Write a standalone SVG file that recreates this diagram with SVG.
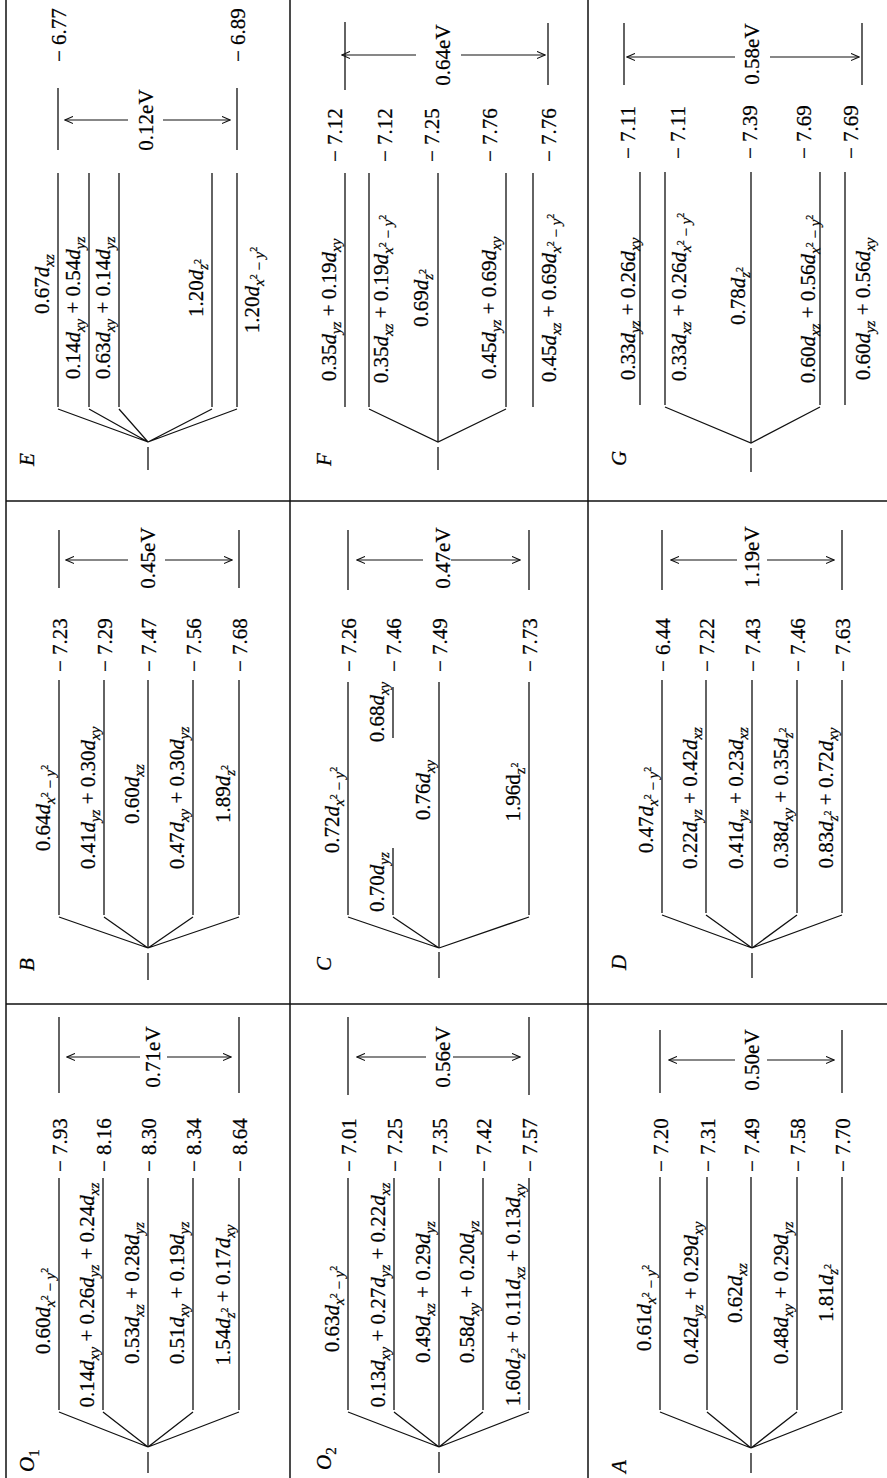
<svg xmlns="http://www.w3.org/2000/svg" width="887" height="1478" viewBox="0 0 887 1478">
<style>
.t{font-family:"Liberation Serif","Times New Roman",serif;font-size:21px;fill:#000;stroke:#000;stroke-width:0.25}
.i{font-style:italic}
.s{font-size:15px}
.p{font-size:10px}
.ln{stroke:#111;stroke-width:1.3;fill:none}
.gr{stroke:#111;stroke-width:1.5;fill:none}
.ar{stroke:#111;stroke-width:1.2;fill:none;marker-end:url(#ah)}
</style>
<defs>
<marker id="ah" viewBox="0 0 10 10" refX="9" refY="5" markerWidth="9" markerHeight="9" orient="auto" markerUnits="userSpaceOnUse"><path d="M0,1 L9,5 L0,9" fill="none" stroke="#111" stroke-width="1.2"/></marker>
</defs>
<rect width="887" height="1478" fill="#fff"/>
<g transform="translate(0,1478) rotate(-90)">
<g id="grid" class="gr">
<path d="M0,6 H1478 M0,290 H1478 M0,588 H1478 M474,6 V887 M977,6 V887"/>
</g>

<!-- O1 -->
<g id="panel-O1">
<path class="ln" d="M68,59 H300 M68,103 H300 M31,148 H300 M68,193 H300 M68,239 H300 M5,148 H26 M385,59 H461 M385,239 H461"/>
<g class="connectors"><path class="ln" d="M66,59 L31,148 L66,103 M66,193 L31,148 L66,239"/>
<path class="ar" d="M421,140 V67"/><path class="ar" d="M421,167 V231"/></g>
<text class="t" x="6" y="34"><tspan class="i">O</tspan><tspan class="s" dy="5">1</tspan></text>
<text class="t" x="421" y="160" text-anchor="middle">0.71eV</text>
<text class="t" x="306" y="67">− 7.93</text>
<text class="t" x="306" y="111">− 8.16</text>
<text class="t" x="306" y="156">− 8.30</text>
<text class="t" x="306" y="201">− 8.34</text>
<text class="t" x="306" y="247">− 8.64</text>
<text class="t" x="167" y="50" text-anchor="middle">0.60<tspan class="i">d</tspan><tspan class="s" dy="5"><tspan class="i">x</tspan><tspan class="p" dy="-7">2</tspan><tspan dy="7"> − </tspan><tspan class="i">y</tspan><tspan class="p" dy="-7">2</tspan></tspan></text>
<text class="t" x="183" y="94" text-anchor="middle">0.14<tspan class="i">d</tspan><tspan class="i s" dy="5">xy</tspan><tspan dy="-5"> + 0.26</tspan><tspan class="i">d</tspan><tspan class="i s" dy="5">yz</tspan><tspan dy="-5"> + 0.24</tspan><tspan class="i">d</tspan><tspan class="i s" dy="5">xz</tspan></text>
<text class="t" x="185" y="139" text-anchor="middle">0.53<tspan class="i">d</tspan><tspan class="i s" dy="5">xz</tspan><tspan dy="-5"> + 0.28</tspan><tspan class="i">d</tspan><tspan class="i s" dy="5">yz</tspan></text>
<text class="t" x="185" y="184" text-anchor="middle">0.51<tspan class="i">d</tspan><tspan class="i s" dy="5">xy</tspan><tspan dy="-5"> + 0.19</tspan><tspan class="i">d</tspan><tspan class="i s" dy="5">yz</tspan></text>
<text class="t" x="183" y="230" text-anchor="middle">1.54<tspan class="i">d</tspan><tspan class="i s" dy="5">z</tspan><tspan class="p" dy="-7">2</tspan><tspan dy="2"> + 0.17</tspan><tspan class="i">d</tspan><tspan class="i s" dy="5">xy</tspan></text>
</g>

<!-- O2 -->
<g id="panel-O2">
<path class="ln" d="M68,348 H300 M68,394 H300 M31,439 H300 M68,483 H300 M68,529 H300 M5,439 H26 M383,348 H461 M383,529 H461"/>
<g class="connectors"><path class="ln" d="M66,348 L31,439 L66,394 M66,483 L31,439 L66,529"/>
<path class="ar" d="M421,426 V357"/><path class="ar" d="M421,453 V520"/></g>
<text class="t" x="8" y="331"><tspan class="i">O</tspan><tspan class="s" dy="5">2</tspan></text>
<text class="t" x="421" y="450" text-anchor="middle">0.56eV</text>
<text class="t" x="306" y="356">− 7.01</text>
<text class="t" x="306" y="402">− 7.25</text>
<text class="t" x="306" y="447">− 7.35</text>
<text class="t" x="306" y="491">− 7.42</text>
<text class="t" x="306" y="537">− 7.57</text>
<text class="t" x="169" y="339" text-anchor="middle">0.63<tspan class="i">d</tspan><tspan class="s" dy="5"><tspan class="i">x</tspan><tspan class="p" dy="-7">2</tspan><tspan dy="7"> − </tspan><tspan class="i">y</tspan><tspan class="p" dy="-7">2</tspan></tspan></text>
<text class="t" x="183" y="385" text-anchor="middle">0.13<tspan class="i">d</tspan><tspan class="i s" dy="5">xy</tspan><tspan dy="-5"> + 0.27</tspan><tspan class="i">d</tspan><tspan class="i s" dy="5">yz</tspan><tspan dy="-5"> + 0.22</tspan><tspan class="i">d</tspan><tspan class="i s" dy="5">xz</tspan></text>
<text class="t" x="186" y="430" text-anchor="middle">0.49<tspan class="i">d</tspan><tspan class="i s" dy="5">xz</tspan><tspan dy="-5"> + 0.29</tspan><tspan class="i">d</tspan><tspan class="i s" dy="5">yz</tspan></text>
<text class="t" x="186" y="474" text-anchor="middle">0.58<tspan class="i">d</tspan><tspan class="i s" dy="5">xy</tspan><tspan dy="-5"> + 0.20</tspan><tspan class="i">d</tspan><tspan class="i s" dy="5">yz</tspan></text>
<text class="t" x="183" y="520" text-anchor="middle">1.60<tspan class="i">d</tspan><tspan class="i s" dy="5">z</tspan><tspan class="p" dy="-7">2</tspan><tspan dy="2"> + 0.11</tspan><tspan class="i">d</tspan><tspan class="i s" dy="5">xz</tspan><tspan dy="-5"> + 0.13</tspan><tspan class="i">d</tspan><tspan class="i s" dy="5">xy</tspan></text>
</g>

<!-- A -->
<g id="panel-A">
<path class="ln" d="M68,660 H301 M68,707 H301 M30,751 H301 M68,797 H301 M68,842 H301 M5,751 H25 M385,660 H448 M385,842 H448"/>
<g class="connectors"><path class="ln" d="M66,660 L30,751 L66,707 M66,797 L30,751 L66,842"/>
<path class="ar" d="M418,735 V669"/><path class="ar" d="M418,767 V834"/></g>
<text class="t i" x="5" y="626">A</text>
<text class="t" x="418" y="759" text-anchor="middle">0.50eV</text>
<text class="t" x="306" y="668">− 7.20</text>
<text class="t" x="306" y="715">− 7.31</text>
<text class="t" x="306" y="759">− 7.49</text>
<text class="t" x="306" y="805">− 7.58</text>
<text class="t" x="306" y="850">− 7.70</text>
<text class="t" x="170" y="651" text-anchor="middle">0.61<tspan class="i">d</tspan><tspan class="s" dy="5"><tspan class="i">x</tspan><tspan class="p" dy="-7">2</tspan><tspan dy="7"> − </tspan><tspan class="i">y</tspan><tspan class="p" dy="-7">2</tspan></tspan></text>
<text class="t" x="185" y="698" text-anchor="middle">0.42<tspan class="i">d</tspan><tspan class="i s" dy="5">yz</tspan><tspan dy="-5"> + 0.29</tspan><tspan class="i">d</tspan><tspan class="i s" dy="5">xy</tspan></text>
<text class="t" x="185" y="742" text-anchor="middle">0.62<tspan class="i">d</tspan><tspan class="i s" dy="5">xz</tspan></text>
<text class="t" x="185" y="788" text-anchor="middle">0.48<tspan class="i">d</tspan><tspan class="i s" dy="5">xy</tspan><tspan dy="-5"> + 0.29</tspan><tspan class="i">d</tspan><tspan class="i s" dy="5">yz</tspan></text>
<text class="t" x="185" y="833" text-anchor="middle">1.81<tspan class="i">d</tspan><tspan class="i s" dy="5">z</tspan><tspan class="p" dy="-7">2</tspan></text>
</g>

<!-- B -->
<g id="panel-B">
<path class="ln" d="M563,59 H798 M563,104 H798 M530,148 H798 M563,193 H798 M563,239 H798 M498,148 H525 M890,59 H948 M890,239 H948"/>
<g class="connectors"><path class="ln" d="M561,59 L530,148 L561,104 M561,193 L530,148 L561,239"/>
<path class="ar" d="M918,128 V66"/><path class="ar" d="M918,165 V232"/></g>
<text class="t i" x="507" y="34">B</text>
<text class="t" x="920" y="155" text-anchor="middle">0.45eV</text>
<text class="t" x="806" y="67">− 7.23</text>
<text class="t" x="806" y="112">− 7.29</text>
<text class="t" x="806" y="156">− 7.47</text>
<text class="t" x="806" y="201">− 7.56</text>
<text class="t" x="806" y="247">− 7.68</text>
<text class="t" x="670" y="50" text-anchor="middle">0.64<tspan class="i">d</tspan><tspan class="s" dy="5"><tspan class="i">x</tspan><tspan class="p" dy="-7">2</tspan><tspan dy="7"> − </tspan><tspan class="i">y</tspan><tspan class="p" dy="-7">2</tspan></tspan></text>
<text class="t" x="680" y="95" text-anchor="middle">0.41<tspan class="i">d</tspan><tspan class="i s" dy="5">yz</tspan><tspan dy="-5"> + 0.30</tspan><tspan class="i">d</tspan><tspan class="i s" dy="5">xy</tspan></text>
<text class="t" x="684" y="139" text-anchor="middle">0.60<tspan class="i">d</tspan><tspan class="i s" dy="5">xz</tspan></text>
<text class="t" x="680" y="184" text-anchor="middle">0.47<tspan class="i">d</tspan><tspan class="i s" dy="5">xy</tspan><tspan dy="-5"> + 0.30</tspan><tspan class="i">d</tspan><tspan class="i s" dy="5">yz</tspan></text>
<text class="t" x="684" y="230" text-anchor="middle">1.89<tspan class="i">d</tspan><tspan class="i s" dy="5">z</tspan><tspan class="p" dy="-7">2</tspan></text>
</g>

<!-- C -->
<g id="panel-C">
<path class="ln" d="M563,348 H796 M563,393 H630 M740,393 H791 M530,439 H796 M563,529 H796 M500,439 H526 M888,348 H948 M888,529 H948"/>
<g class="connectors"><path class="ln" d="M561,348 L530,439 L561,393 M530,439 L561,529"/>
<path class="ar" d="M918,423 V357"/><path class="ar" d="M918,451 V520"/></g>
<text class="t i" x="507" y="331">C</text>
<text class="t" x="920" y="450" text-anchor="middle">0.47eV</text>
<text class="t" x="806" y="356">− 7.26</text>
<text class="t" x="806" y="401">− 7.46</text>
<text class="t" x="806" y="447">− 7.49</text>
<text class="t" x="806" y="537">− 7.73</text>
<text class="t" x="668" y="339" text-anchor="middle">0.72<tspan class="i">d</tspan><tspan class="s" dy="5"><tspan class="i">x</tspan><tspan class="p" dy="-7">2</tspan><tspan dy="7"> − </tspan><tspan class="i">y</tspan><tspan class="p" dy="-7">2</tspan></tspan></text>
<text class="t" x="596" y="384" text-anchor="middle">0.70<tspan class="i">d</tspan><tspan class="i s" dy="5">yz</tspan></text>
<text class="t" x="766" y="384" text-anchor="middle">0.68<tspan class="i">d</tspan><tspan class="i s" dy="5">xy</tspan></text>
<text class="t" x="688" y="430" text-anchor="middle">0.76<tspan class="i">d</tspan><tspan class="i s" dy="5">xy</tspan></text>
<text class="t" x="686" y="520" text-anchor="middle">1.96d<tspan class="s" dy="5">z</tspan><tspan class="p" dy="-7">2</tspan></text>
</g>

<!-- D -->
<g id="panel-D">
<path class="ln" d="M565,662 H798 M565,706 H798 M530,752 H798 M565,797 H798 M565,842 H798 M500,752 H525 M888,662 H948 M888,842 H948"/>
<g class="connectors"><path class="ln" d="M563,662 L530,752 L563,706 M563,797 L530,752 L563,842"/>
<path class="ar" d="M918,737 V671"/><path class="ar" d="M918,767 V834"/></g>
<text class="t i" x="508" y="626">D</text>
<text class="t" x="921" y="759" text-anchor="middle">1.19eV</text>
<text class="t" x="806" y="670">− 6.44</text>
<text class="t" x="806" y="714">− 7.22</text>
<text class="t" x="806" y="760">− 7.43</text>
<text class="t" x="806" y="805">− 7.46</text>
<text class="t" x="806" y="850">− 7.63</text>
<text class="t" x="668" y="653" text-anchor="middle">0.47<tspan class="i">d</tspan><tspan class="s" dy="5"><tspan class="i">x</tspan><tspan class="p" dy="-7">2</tspan><tspan dy="7"> − </tspan><tspan class="i">y</tspan><tspan class="p" dy="-7">2</tspan></tspan></text>
<text class="t" x="680" y="697" text-anchor="middle">0.22<tspan class="i">d</tspan><tspan class="i s" dy="5">yz</tspan><tspan dy="-5"> + 0.42</tspan><tspan class="i">d</tspan><tspan class="i s" dy="5">xz</tspan></text>
<text class="t" x="680" y="743" text-anchor="middle">0.41<tspan class="i">d</tspan><tspan class="i s" dy="5">yz</tspan><tspan dy="-5"> + 0.23</tspan><tspan class="i">d</tspan><tspan class="i s" dy="5">xz</tspan></text>
<text class="t" x="680" y="788" text-anchor="middle">0.38<tspan class="i">d</tspan><tspan class="i s" dy="5">xy</tspan><tspan dy="-5"> + 0.35</tspan><tspan class="i">d</tspan><tspan class="i s" dy="5">z</tspan><tspan class="p" dy="-7">2</tspan></text>
<text class="t" x="680" y="833" text-anchor="middle">0.83<tspan class="i">d</tspan><tspan class="i s" dy="5">z</tspan><tspan class="p" dy="-7">2</tspan><tspan dy="2"> + 0.72</tspan><tspan class="i">d</tspan><tspan class="i s" dy="5">xy</tspan></text>
</g>

<!-- E -->
<g id="panel-E">
<path class="ln" d="M1071,58 H1305 M1071,89 H1305 M1071,119 H1305 M1071,212 H1305 M1071,237 H1305 M1008,148 H1031 M1328,58 H1390 M1328,237 H1390"/>
<g class="connectors"><path class="ln" d="M1069,58 L1036,148 L1069,89 M1069,119 L1036,148 L1069,212 M1036,148 L1069,237"/>
<path class="ar" d="M1358,128 V65"/><path class="ar" d="M1358,163 V230"/></g>
<text class="t i" x="1012" y="34">E</text>
<text class="t" x="1358" y="153" text-anchor="middle">0.12eV</text>
<text class="t" x="1416" y="66">− 6.77</text>
<text class="t" x="1416" y="245">− 6.89</text>
<text class="t" x="1194" y="49" text-anchor="middle">0.67<tspan class="i">d</tspan><tspan class="i s" dy="5">xz</tspan></text>
<text class="t" x="1170" y="80" text-anchor="middle">0.14<tspan class="i">d</tspan><tspan class="i s" dy="5">xy</tspan><tspan dy="-5"> + 0.54</tspan><tspan class="i">d</tspan><tspan class="i s" dy="5">yz</tspan></text>
<text class="t" x="1170" y="110" text-anchor="middle">0.63<tspan class="i">d</tspan><tspan class="i s" dy="5">xy</tspan><tspan dy="-5"> + 0.14</tspan><tspan class="i">d</tspan><tspan class="i s" dy="5">yz</tspan></text>
<text class="t" x="1190" y="203" text-anchor="middle">1.20<tspan class="i">d</tspan><tspan class="i s" dy="5">z</tspan><tspan class="p" dy="-7">2</tspan></text>
<text class="t" x="1188" y="259" text-anchor="middle">1.20<tspan class="i">d</tspan><tspan class="s" dy="5"><tspan class="i">x</tspan><tspan class="p" dy="-7">2</tspan><tspan dy="7"> − </tspan><tspan class="i">y</tspan><tspan class="p" dy="-7">2</tspan></tspan></text>
</g>

<!-- F -->
<g id="panel-F">
<path class="ln" d="M1071,345 H1305 M1071,369 H1305 M1036,438 H1305 M1071,506 H1305 M1071,533 H1305 M1008,438 H1031 M1388,345 H1456 M1393,548 H1455"/>
<g class="connectors"><path class="ln" d="M1069,369 L1036,438 L1069,506"/>
<path class="ar" d="M1423,416 V342"/><path class="ar" d="M1423,461 V545"/></g>
<text class="t i" x="1012" y="331">F</text>
<text class="t" x="1423" y="450" text-anchor="middle">0.64eV</text>
<text class="t" x="1316" y="342">− 7.12</text>
<text class="t" x="1316" y="392">− 7.12</text>
<text class="t" x="1316" y="439">− 7.25</text>
<text class="t" x="1316" y="497">− 7.76</text>
<text class="t" x="1316" y="556">− 7.76</text>
<text class="t" x="1168" y="336" text-anchor="middle">0.35<tspan class="i">d</tspan><tspan class="i s" dy="5">yz</tspan><tspan dy="-5"> + 0.19</tspan><tspan class="i">d</tspan><tspan class="i s" dy="5">xy</tspan></text>
<text class="t" x="1179" y="388" text-anchor="middle">0.35<tspan class="i">d</tspan><tspan class="i s" dy="5">xz</tspan><tspan dy="-5"> + 0.19</tspan><tspan class="i">d</tspan><tspan class="s" dy="5"><tspan class="i">x</tspan><tspan class="p" dy="-7">2</tspan><tspan dy="7"> − </tspan><tspan class="i">y</tspan><tspan class="p" dy="-7">2</tspan></tspan></text>
<text class="t" x="1180" y="428" text-anchor="middle">0.69<tspan class="i">d</tspan><tspan class="i s" dy="5">z</tspan><tspan class="p" dy="-7">2</tspan></text>
<text class="t" x="1170" y="496" text-anchor="middle">0.45<tspan class="i">d</tspan><tspan class="i s" dy="5">yz</tspan><tspan dy="-5"> + 0.69</tspan><tspan class="i">d</tspan><tspan class="i s" dy="5">xy</tspan></text>
<text class="t" x="1180" y="556" text-anchor="middle">0.45<tspan class="i">d</tspan><tspan class="i s" dy="5">xz</tspan><tspan dy="-5"> + 0.69</tspan><tspan class="i">d</tspan><tspan class="s" dy="5"><tspan class="i">x</tspan><tspan class="p" dy="-7">2</tspan><tspan dy="7"> − </tspan><tspan class="i">y</tspan><tspan class="p" dy="-7">2</tspan></tspan></text>
</g>

<!-- G -->
<g id="panel-G">
<path class="ln" d="M1073,640 H1306 M1073,665 H1306 M1035,751 H1306 M1073,820 H1306 M1073,845 H1306 M1006,751 H1030 M1393,624 H1455 M1393,862 H1455"/>
<g class="connectors"><path class="ln" d="M1071,665 L1035,751 L1071,820"/>
<path class="ar" d="M1421,735 V627"/><path class="ar" d="M1421,770 V859"/></g>
<text class="t i" x="1012" y="626">G</text>
<text class="t" x="1424" y="759" text-anchor="middle">0.58eV</text>
<text class="t" x="1319" y="635">− 7.11</text>
<text class="t" x="1319" y="685">− 7.11</text>
<text class="t" x="1319" y="757">− 7.39</text>
<text class="t" x="1319" y="811">− 7.69</text>
<text class="t" x="1319" y="858">− 7.69</text>
<text class="t" x="1169" y="635" text-anchor="middle">0.33<tspan class="i">d</tspan><tspan class="i s" dy="5">yz</tspan><tspan dy="-5"> + 0.26</tspan><tspan class="i">d</tspan><tspan class="i s" dy="5">xy</tspan></text>
<text class="t" x="1181" y="686" text-anchor="middle">0.33<tspan class="i">d</tspan><tspan class="i s" dy="5">xz</tspan><tspan dy="-5"> + 0.26</tspan><tspan class="i">d</tspan><tspan class="s" dy="5"><tspan class="i">x</tspan><tspan class="p" dy="-7">2</tspan><tspan dy="7"> − </tspan><tspan class="i">y</tspan><tspan class="p" dy="-7">2</tspan></tspan></text>
<text class="t" x="1182" y="745" text-anchor="middle">0.78<tspan class="i">d</tspan><tspan class="i s" dy="5">z</tspan><tspan class="p" dy="-7">2</tspan></text>
<text class="t" x="1179" y="815" text-anchor="middle">0.60<tspan class="i">d</tspan><tspan class="i s" dy="5">xz</tspan><tspan dy="-5"> + 0.56</tspan><tspan class="i">d</tspan><tspan class="s" dy="5"><tspan class="i">x</tspan><tspan class="p" dy="-7">2</tspan><tspan dy="7"> − </tspan><tspan class="i">y</tspan><tspan class="p" dy="-7">2</tspan></tspan></text>
<text class="t" x="1169" y="870" text-anchor="middle">0.60<tspan class="i">d</tspan><tspan class="i s" dy="5">yz</tspan><tspan dy="-5"> + 0.56</tspan><tspan class="i">d</tspan><tspan class="i s" dy="5">xy</tspan></text>
</g>
</g>
</svg>
